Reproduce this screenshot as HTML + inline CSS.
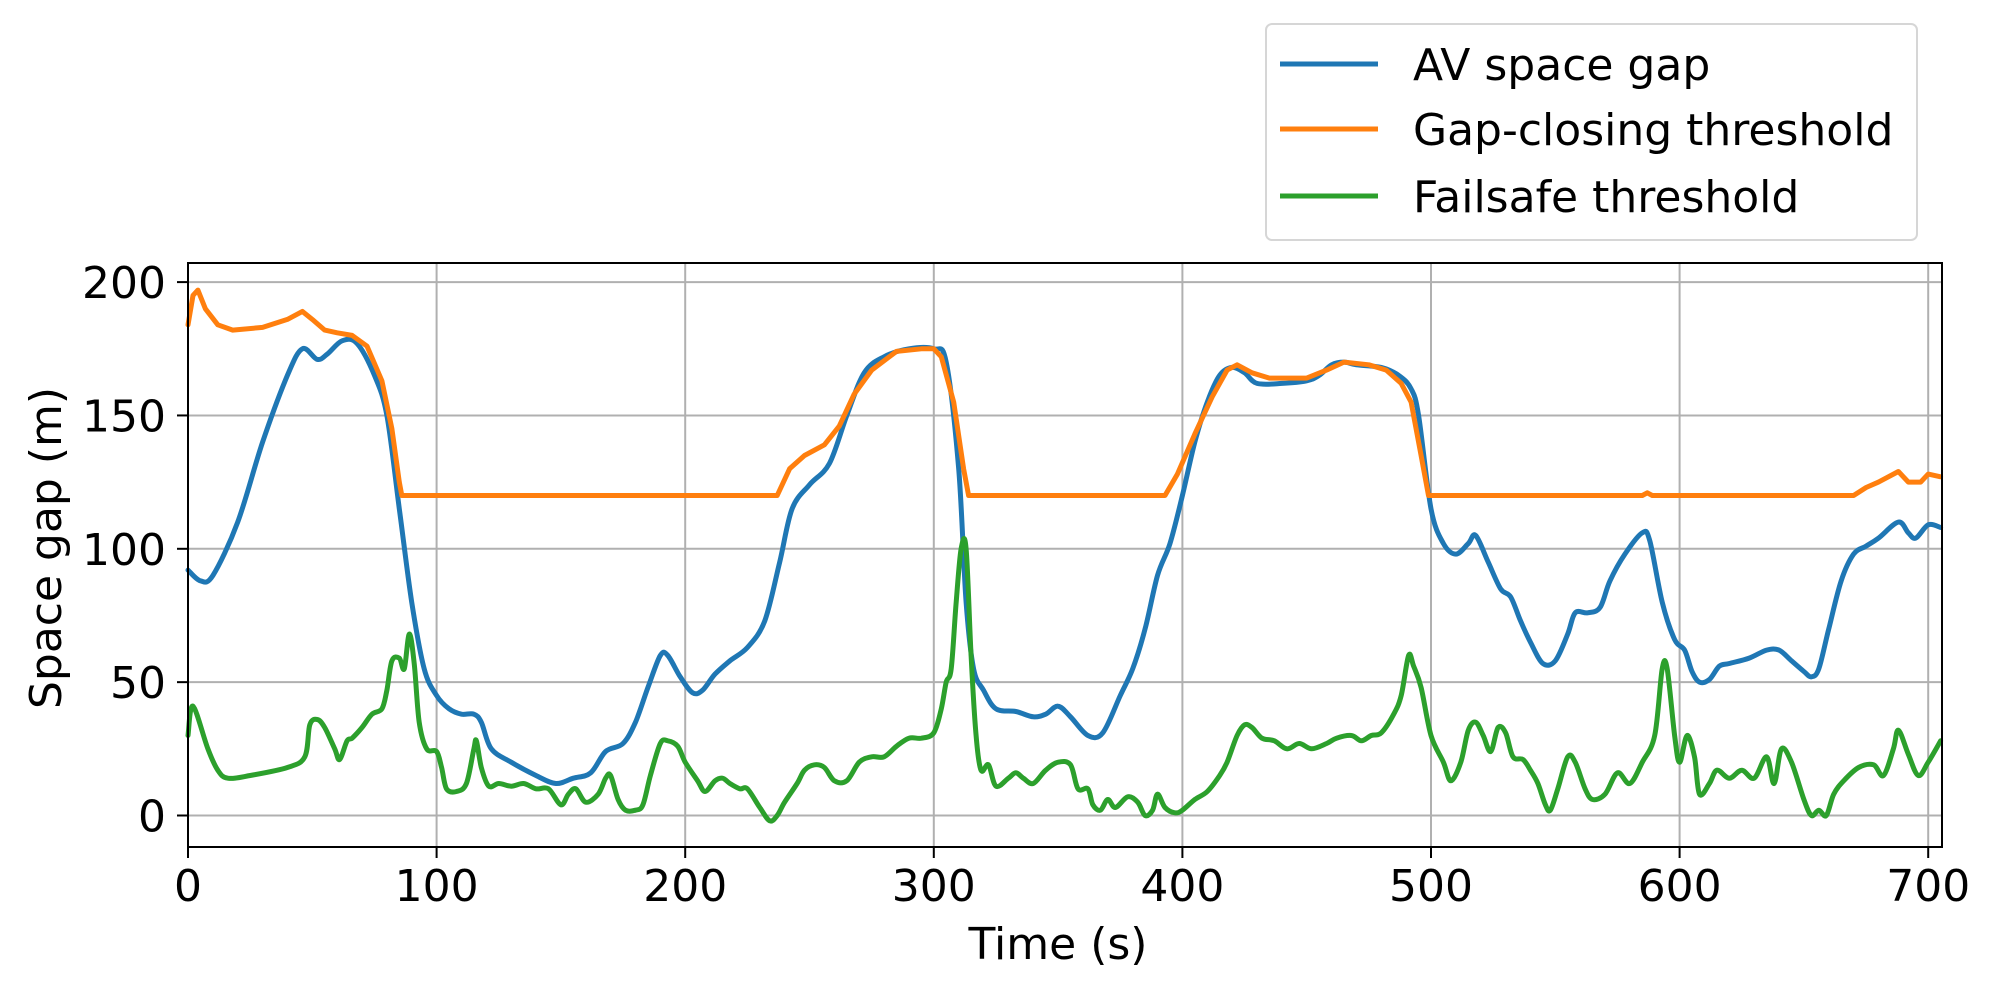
<!DOCTYPE html>
<html><head><meta charset="utf-8"><style>
html,body{margin:0;padding:0;background:#fff}
svg{display:block}
text{font-family:"DejaVu Sans","Liberation Sans",sans-serif;fill:#000}
</style></head><body>
<svg id="s" width="1999" height="984" viewBox="0 0 1999 984" xmlns="http://www.w3.org/2000/svg">
<g id="grid" stroke="#b0b0b0" stroke-width="2"></g>
<g id="lines" fill="none" stroke-width="5" stroke-linejoin="round" stroke-linecap="round"></g>
<rect x="188" y="263" width="1754" height="584" fill="none" stroke="#000" stroke-width="2"/>
<g id="ticks" stroke="#000" stroke-width="2"></g>
<g id="labels" font-size="44"></g>
<text x="1058" y="959" font-size="44" text-anchor="middle">Time (s)</text>
<text transform="translate(61,548) rotate(-90)" font-size="44" text-anchor="middle">Space gap (m)</text>
<rect x="1266" y="24" width="651" height="216" rx="6" fill="#fff" stroke="#d6d6d6" stroke-width="2"/>
<line x1="1280" y1="64" x2="1378" y2="64" stroke="#1f77b4" stroke-width="5"/>
<line x1="1280" y1="129" x2="1378" y2="129" stroke="#ff7f0e" stroke-width="5"/>
<line x1="1280" y1="196" x2="1378" y2="196" stroke="#2ca02c" stroke-width="5"/>
<text x="1413" y="80" font-size="44">AV space gap</text>
<text x="1413" y="145" font-size="44">Gap-closing threshold</text>
<text x="1413" y="212" font-size="44">Failsafe threshold</text>
</svg>
<script>
var X0=188,XS=2.486,Y0=815.5,YS=2.667;
function px(t){return X0+t*XS} function py(v){return Y0-v*YS}
var ns="http://www.w3.org/2000/svg";
function el(p,n,a,txt){var e=document.createElementNS(ns,n);for(var k in a)e.setAttribute(k,a[k]);if(txt!=null)e.textContent=txt;document.getElementById(p).appendChild(e);}
for(var t=0;t<=700;t+=100){el("grid","line",{x1:px(t),x2:px(t),y1:263,y2:847});el("ticks","line",{x1:px(t),x2:px(t),y1:847,y2:858});el("labels","text",{x:px(t),y:901,"text-anchor":"middle"},String(t));}
for(var v=0;v<=200;v+=50){el("grid","line",{x1:188,x2:1942,y1:py(v),y2:py(v)});el("ticks","line",{x1:177,x2:188,y1:py(v),y2:py(v)});el("labels","text",{x:166,y:py(v)+16,"text-anchor":"end"},String(v));}
var blue=[0,92,5,88,10,90,20,110,30,140,40,165,46,175,52,171,56,173,62,178,68,177,75,165,80,150,85,115,90,80,95,55,100,45,105,40,110,38,115,38,118,35,122,25,130,20,140,15,148,12,155,14,162,16,168,24,175,27,180,35,185,48,190,60,193,60,198,52,203,46,207,47,212,53,218,58,225,63,232,73,238,95,243,115,250,124,258,132,265,150,272,166,280,172,290,175,300,175,305,170,310,130,313,80,316,55,320,47,325,40,333,39,340,37,345,38,350,41,355,37,362,30,368,31,375,45,380,55,385,70,390,90,395,102,400,120,405,140,410,155,415,165,420,168,425,166,430,162,440,162,450,163,455,165,460,169,465,170,470,169,480,168,487,165,492,160,495,150,500,115,505,102,510,98,515,102,518,105,523,95,528,85,532,82,536,73,540,65,545,57,550,58,555,68,558,76,563,76,568,78,572,88,578,98,585,106,588,103,593,80,598,66,602,62,605,54,608,50,612,51,616,56,620,57,628,59,635,62,640,62,645,58,650,54,653,52,656,55,660,70,665,88,670,98,675,101,680,104,688,110,692,106,695,104,700,109,705,108];
var orange=[0,184,2,195,4,197,7,190,12,184,18,182,30,183,40,186,46,189,50,186,55,182,60,181,66,180,72,176,78,163,82,145,85,125,86,120,237,120,242,130,248,135,256,139,262,146,268,158,275,167,285,174,295,175,300,175,303,172,308,155,312,130,314,120,393,120,398,128,405,143,412,157,418,167,422,169,428,166,435,164,450,164,458,167,465,170,475,169,482,167,488,162,492,155,496,135,499,120,585,120,587,121,589,120,670,120,675,123,680,125,688,129,692,125,697,125,700,128,705,127];
var green=[0,30,2,41,8,25,12,17,16,14,25,15,40,18,47,22,49,34,52,36,55,33,59,25,61,21,64,28,66,29,70,33,74,38,78,40,80,47,82,58,85,59,87,55,89,68,91,57,93,35,96,25,100,24,102,18,104,10,108,9,112,12,115,25,116,28,118,18,121,11,125,12,130,11,135,12,140,10,145,10,150,4,153,8,156,10,160,5,165,8,168,14,170,15,173,6,176,2,180,2,183,4,186,15,190,27,193,28,197,26,200,20,205,13,208,9,212,13,215,14,218,12,222,10,225,10,230,3,234,-2,237,0,240,5,245,12,248,17,252,19,256,18,260,13,265,13,270,20,275,22,280,22,285,26,290,29,295,29,300,31,303,40,305,50,307,55,309,80,311,100,313,100,315,60,317,30,319,17,322,19,325,11,330,14,333,16,336,14,340,12,345,17,350,20,355,19,358,10,362,10,364,4,367,2,370,6,373,3,378,7,382,5,385,0,388,2,390,8,393,3,397,1,400,2,405,6,410,9,415,15,418,20,422,30,425,34,428,33,432,29,437,28,442,25,447,27,452,25,458,27,462,29,468,30,472,28,476,30,480,31,485,38,488,45,491,60,493,56,496,48,500,30,505,20,508,13,512,20,515,32,518,35,521,30,524,24,527,33,530,31,533,22,537,21,540,17,543,12,546,4,548,2,551,10,555,22,558,20,562,10,565,6,570,8,575,16,580,12,585,20,590,30,593,55,595,55,598,30,600,20,603,30,606,22,608,8,612,12,615,17,620,14,625,17,630,14,635,22,638,12,641,25,645,20,650,6,653,0,656,2,659,0,662,8,666,13,672,18,678,19,682,15,686,25,688,32,692,23,696,15,700,20,705,28];
function path(a,smooth){var P=[];for(var i=0;i<a.length;i+=2)P.push([px(a[i]),py(a[i+1])]);
var d="M"+P[0][0].toFixed(1)+","+P[0][1].toFixed(1);
for(var i=0;i<P.length-1;i++){var p0=P[Math.max(0,i-1)],p1=P[i],p2=P[i+1],p3=P[Math.min(P.length-1,i+2)];
if(!smooth){d+="L"+p2[0].toFixed(1)+","+p2[1].toFixed(1);continue;}
var k=1/6,c1x=p1[0]+(p2[0]-p0[0])*k,c1y=p1[1]+(p2[1]-p0[1])*k,c2x=p2[0]-(p3[0]-p1[0])*k,c2y=p2[1]-(p3[1]-p1[1])*k;
c1x=Math.min(Math.max(c1x,p1[0]),p2[0]);c2x=Math.min(Math.max(c2x,p1[0]),p2[0]);
d+="C"+c1x.toFixed(1)+","+c1y.toFixed(1)+" "+c2x.toFixed(1)+","+c2y.toFixed(1)+" "+p2[0].toFixed(1)+","+p2[1].toFixed(1);}
return d;}
el("lines","path",{d:path(blue,true),stroke:"#1f77b4"});
el("lines","path",{d:path(orange,false),stroke:"#ff7f0e"});
el("lines","path",{d:path(green,true),stroke:"#2ca02c"});
</script>
</body></html>
